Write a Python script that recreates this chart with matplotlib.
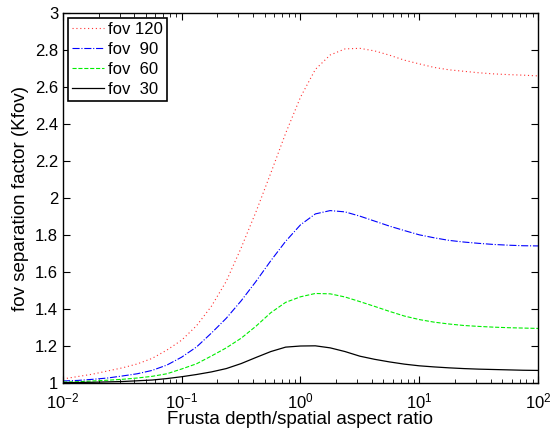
import matplotlib
matplotlib.use("Agg")
import matplotlib.pyplot as plt
import numpy as np

# log10 of aspect ratio where the curves were read
log_x = [-2.0, -1.875, -1.75, -1.625, -1.5, -1.375, -1.25, -1.125, -1.0, -0.875, -0.75,
         -0.625, -0.5, -0.375, -0.25, -0.125, 0.0, 0.125, 0.25, 0.375, 0.5, 0.625, 0.75,
         0.875, 1.0, 1.125, 1.25, 1.375, 1.5, 1.625, 1.75, 1.875, 2.0]

fov120 = [1.022, 1.035, 1.048, 1.065, 1.082, 1.103, 1.133, 1.178, 1.232, 1.31, 1.415,
          1.55, 1.73, 1.925, 2.135, 2.35, 2.545, 2.695, 2.773, 2.806, 2.809, 2.795, 2.772,
          2.745, 2.725, 2.706, 2.693, 2.685, 2.677, 2.671, 2.667, 2.664, 2.66]
fov90 = [1.011, 1.014, 1.02, 1.027, 1.038, 1.05, 1.068, 1.097, 1.14, 1.195, 1.27,
         1.35, 1.444, 1.549, 1.661, 1.766, 1.855, 1.914, 1.932, 1.925, 1.902, 1.875, 1.848,
         1.824, 1.801, 1.785, 1.771, 1.762, 1.755, 1.749, 1.745, 1.742, 1.741]
fov60 = [1.005, 1.007, 1.011, 1.015, 1.02, 1.027, 1.036, 1.05, 1.076, 1.104, 1.146,
         1.19, 1.242, 1.307, 1.38, 1.436, 1.466, 1.484, 1.482, 1.465, 1.44, 1.414, 1.387,
         1.362, 1.343, 1.329, 1.319, 1.311, 1.306, 1.302, 1.299, 1.297, 1.295]
fov30 = [1.002, 1.003, 1.004, 1.006, 1.008, 1.012, 1.016, 1.024, 1.034, 1.046, 1.06,
         1.078, 1.105, 1.138, 1.17, 1.194, 1.2, 1.201, 1.19, 1.17, 1.145, 1.128, 1.114,
         1.102, 1.093, 1.087, 1.082, 1.078, 1.075, 1.073, 1.071, 1.069, 1.068]

labels = ["fov 120", "fov  90", "fov  60", "fov  30"]
series = [fov120, fov90, fov60, fov30]
colors = ["#ff3030", "#0000ff", "#00ee00", "#000000"]
styles = [(0, (1, 2.5)), "-.", "--", "-"]
widths = [0.8, 0.8, 0.8, 0.9]

plt.rcParams["font.family"] = ["Liberation Sans", "DejaVu Sans"]
plt.rcParams["font.size"] = 12

x = 10.0 ** np.array(log_x)

fig = plt.figure(figsize=(5.59, 4.32), dpi=100)
ax = fig.add_axes([0.1127, 0.1134, 0.8497, 0.8565])

for vals, lab, col, ls, lw in zip(series, labels, colors, styles, widths):
    ax.plot(x, vals, linestyle=ls, color=col, linewidth=lw, label=lab)

ax.set_xscale("log")
ax.set_xlim(1e-2, 1e2)
ax.set_ylim(1, 3)
ax.set_yticks(np.arange(1, 3.01, 0.2))
ax.set_yticklabels(["1", "1.2", "1.4", "1.6", "1.8", "2", "2.2", "2.4", "2.6", "2.8", "3"])
ax.tick_params(which="both", direction="in", top=True, right=True, labelsize=12)
ax.tick_params(which="major", length=5, width=0.8)
ax.tick_params(which="minor", length=3, width=0.6)
ax.tick_params(axis="x", pad=6)
for s in ax.spines.values():
    s.set_linewidth(1.0)

ax.set_xlabel("Frusta depth/spatial aspect ratio", fontsize=13.5, labelpad=0)
ax.set_ylabel("fov separation factor (Kfov)", fontsize=13.5, labelpad=4)

leg = ax.legend(loc="upper left", fancybox=False, framealpha=1, edgecolor="black",
                fontsize=12, handlelength=1.9, handletextpad=0.25, borderpad=0.25,
                labelspacing=0.3, borderaxespad=0.3)
leg.get_frame().set_linewidth(1.2)

fig.savefig("out.png", dpi=100)
